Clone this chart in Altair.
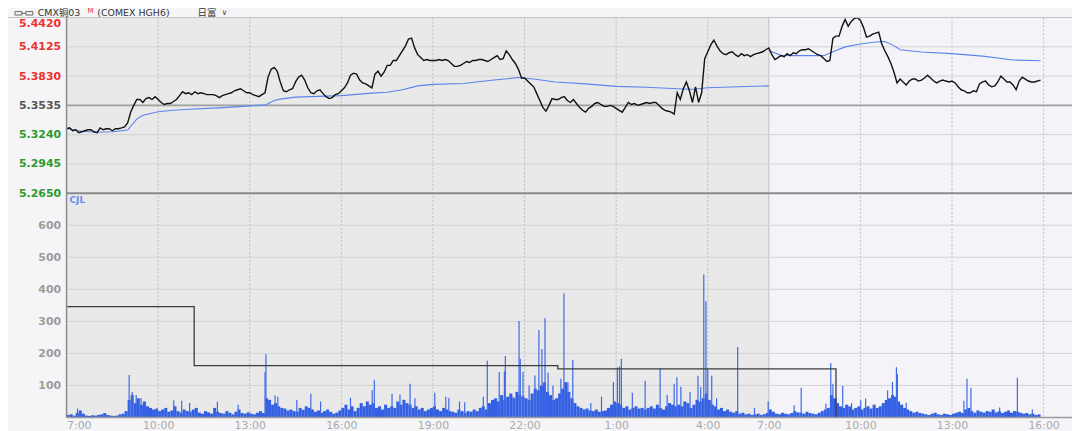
import altair as alt
import pandas as pd

# ---------------- data ----------------
# price sampled every 6 trading minutes from 7:00 (index hours = i*0.1)
price = [
    5.3299, 5.3308, 5.3279, 5.3289, 5.3260, 5.3269, 5.3279, 5.3289, 5.3289, 5.3269,
    5.3260, 5.3308, 5.3289, 5.3299, 5.3299, 5.3279, 5.3299, 5.3299, 5.3308, 5.3318,
    5.3358, 5.3466, 5.3535, 5.3594, 5.3594, 5.3564, 5.3603, 5.3613, 5.3594, 5.3623,
    5.3594, 5.3564, 5.3544, 5.3554, 5.3554, 5.3574, 5.3594, 5.3633, 5.3672, 5.3653,
    5.3662, 5.3643, 5.3672, 5.3653, 5.3662, 5.3653, 5.3643, 5.3643, 5.3643, 5.3633,
    5.3613, 5.3633, 5.3643, 5.3653, 5.3662, 5.3682, 5.3692, 5.3702, 5.3682, 5.3662,
    5.3662, 5.3643, 5.3633, 5.3623, 5.3643, 5.3662, 5.3820, 5.3898, 5.3918, 5.3879,
    5.3771, 5.3682, 5.3672, 5.3692, 5.3702, 5.3771, 5.3820, 5.3839, 5.3790, 5.3712,
    5.3662, 5.3653, 5.3682, 5.3692, 5.3653, 5.3623, 5.3603, 5.3613, 5.3643, 5.3653,
    5.3682, 5.3712, 5.3761, 5.3839, 5.3859, 5.3849, 5.3790, 5.3761, 5.3751, 5.3731,
    5.3712, 5.3849, 5.3879, 5.3829, 5.3869, 5.3938, 5.3938, 5.3987, 5.3987, 5.4036,
    5.4085, 5.4134, 5.4203, 5.4213, 5.4114, 5.4046, 5.4016, 5.3987, 5.3997, 5.3987,
    5.3987, 5.3987, 5.3997, 5.3987, 5.3997, 5.3987, 5.3957, 5.3928, 5.3928, 5.3938,
    5.3957, 5.3977, 5.3967, 5.3987, 5.3987, 5.3997, 5.3997, 5.3987, 5.3977, 5.3997,
    5.4016, 5.4036, 5.3997, 5.4006, 5.4085, 5.4046, 5.3997, 5.3957, 5.3898, 5.3810,
    5.3810, 5.3780, 5.3751, 5.3722, 5.3653, 5.3584, 5.3515, 5.3476, 5.3535, 5.3603,
    5.3594, 5.3594, 5.3613, 5.3623, 5.3584, 5.3564, 5.3594, 5.3554, 5.3515, 5.3485,
    5.3466, 5.3505, 5.3525, 5.3554, 5.3564, 5.3544, 5.3525, 5.3525, 5.3535, 5.3525,
    5.3505, 5.3485, 5.3466, 5.3515, 5.3564, 5.3544, 5.3554, 5.3535, 5.3544, 5.3554,
    5.3564, 5.3554, 5.3564, 5.3564, 5.3535, 5.3505, 5.3485, 5.3476, 5.3466, 5.3446,
    5.3662, 5.3594, 5.3702, 5.3771, 5.3682, 5.3564, 5.3722, 5.3564, 5.3662, 5.4006,
    5.4075, 5.4144, 5.4193, 5.4134, 5.4085, 5.4056, 5.4046, 5.4065, 5.4075, 5.4046,
    5.4026, 5.4056, 5.4036, 5.4046, 5.4026, 5.4046, 5.4056, 5.4065, 5.4075, 5.4095,
    5.4114, 5.4046, 5.3997, 5.4016, 5.4036, 5.4026, 5.4056, 5.4036, 5.4065, 5.4056,
    5.4085, 5.4095, 5.4095, 5.4105, 5.4085, 5.4065, 5.4046, 5.4036, 5.4006, 5.3977,
    5.3987, 5.4213, 5.4232, 5.4232, 5.4331, 5.4400, 5.4331, 5.4380, 5.4409, 5.4419,
    5.4390, 5.4321, 5.4223, 5.4232, 5.4252, 5.4262, 5.4272, 5.4154, 5.4085, 5.4026,
    5.3957, 5.3869, 5.3761, 5.3800, 5.3771, 5.3741, 5.3780, 5.3800, 5.3800, 5.3780,
    5.3790, 5.3810, 5.3839, 5.3810, 5.3780, 5.3761, 5.3780, 5.3790, 5.3780, 5.3771,
    5.3780, 5.3761, 5.3722, 5.3692, 5.3682, 5.3662, 5.3662, 5.3682, 5.3672, 5.3751,
    5.3771, 5.3780, 5.3741, 5.3722, 5.3731, 5.3771, 5.3829, 5.3800, 5.3771, 5.3771,
    5.3741, 5.3692, 5.3780, 5.3820, 5.3800, 5.3780, 5.3771, 5.3771, 5.3780, 5.3790,
]

# average price, session 1 (until 7:00) and session 2
avg1_t = [0, 0.5, 1, 1.5, 2, 2.3, 2.5, 3, 3.5, 4, 5, 6, 6.5, 6.8, 7, 7.5, 8, 9, 10, 10.5,
          11, 11.5, 12, 13, 14, 14.8, 15.3, 16, 17, 18, 19, 20, 20.5, 21, 22, 23]
avg1_p = [5.3302, 5.3274, 5.3264, 5.3269, 5.3286, 5.3397, 5.3436, 5.3471, 5.3485, 5.3495,
          5.3510, 5.3530, 5.3537, 5.3584, 5.3598, 5.3618, 5.3623, 5.3633, 5.3658, 5.3667,
          5.3692, 5.3731, 5.3746, 5.3756, 5.3790, 5.3815, 5.3800, 5.3771, 5.3751, 5.3726,
          5.3717, 5.3702, 5.3697, 5.3712, 5.3722, 5.3731]
avg2_t = [23, 23.4, 24, 24.8, 25.1, 25.5, 26, 26.5, 26.8, 27.1, 27.3, 28, 29, 30, 31, 31.9]
avg2_p = [5.4088, 5.4039, 5.4036, 5.4036, 5.4075, 5.4124, 5.4154, 5.4173, 5.4178, 5.4137,
          5.4095, 5.4072, 5.4056, 5.4031, 5.3992, 5.3984]

# volume, 6-minute buckets (one row = one hour)
vol = [
    8, 10, 6, 14, 22, 12, 6, 5, 7, 6,
    8, 10, 14, 8, 6, 5, 6, 10, 12, 20,
    55, 70, 45, 60, 40, 50, 35, 30, 25, 28,
    20, 25, 30, 18, 22, 35, 20, 15, 25, 20,
    18, 25, 30, 15, 12, 20, 16, 12, 30, 18,
    14, 12, 20, 15, 10, 18, 25, 14, 12, 16,
    12, 10, 15, 20, 14, 60, 55, 40, 45, 35,
    30, 28, 22, 25, 20, 18, 30, 24, 35, 30,
    25, 18, 22, 15, 20, 25, 18, 12, 15, 22,
    30, 40, 25, 35, 20, 30, 45, 35, 50, 40,
    45, 30, 35, 25, 40, 30, 35, 30, 50, 40,
    55, 45, 40, 30, 35, 25, 30, 20, 25, 30,
    35, 25, 20, 30, 25, 20, 18, 15, 25, 20,
    15, 20, 18, 25, 20, 30, 35, 25, 45, 55,
    60, 50, 70, 55, 65, 75, 60, 80, 70, 65,
    60, 55, 75, 90, 85, 100, 110, 80, 70, 55,
    60, 75, 90, 110, 80, 60, 45, 35, 30, 25,
    28, 22, 20, 25, 18, 20, 22, 30, 40, 50,
    45, 40, 30, 35, 25, 30, 35, 28, 30, 25,
    30, 35, 28, 40, 30, 25, 35, 45, 40, 35,
    40, 35, 50, 45, 30, 40, 55, 50, 60, 75,
    55, 40, 35, 25, 30, 20, 25, 18, 15, 20,
    12, 15, 10, 12, 8, 10, 12, 8, 10, 14,
    25, 18, 12, 10, 15, 12, 10, 14, 20, 16,
    15, 12, 18, 14, 12, 10, 15, 20, 25, 30,
    70, 60, 45, 35, 30, 40, 35, 25, 30, 35,
    25, 30, 35, 28, 40, 30, 35, 45, 55, 60,
    70, 65, 50, 40, 30, 25, 20, 15, 18, 14,
    12, 10, 8, 12, 15, 10, 8, 12, 10, 8,
    12, 15, 18, 14, 25, 30, 20, 15, 22, 18,
    15, 20, 18, 25, 16, 20, 14, 18, 22, 15,
    20, 18, 15, 12, 14, 10, 12, 8, 10,
]

# single-minute volume spikes (trading hours since 7:00, volume)
spike_t = [0.36, 2.05, 2.15, 2.28, 2.44, 3.51, 3.77, 4.03, 4.94, 5.62, 6.50, 6.53, 6.83, 6.92,
           7.54, 8.0, 8.32, 9.3, 10.01, 10.08, 10.66, 10.92, 11.25, 11.41, 12.06, 12.42, 12.52,
           12.87, 13.04, 13.65, 13.78, 14.17, 14.34, 14.37, 14.63, 14.82, 14.86, 14.95, 15.15,
           15.34, 15.47, 15.57, 15.67, 15.77, 15.93, 16.19, 16.29, 16.42, 16.58, 17.17, 17.52,
           17.91, 18.04, 18.11, 18.17, 18.53, 18.95, 19.44, 19.67, 19.9, 19.99, 20.12, 20.42,
           20.68, 20.77, 20.87, 20.94, 21.0, 21.13, 21.29, 21.98, 22.53, 22.98, 23.83, 24.06,
           24.87, 25.03, 25.1, 25.2, 25.42, 25.71, 26.01, 26.17, 26.89, 27.05, 27.18, 27.21,
           27.5, 29.39, 29.49, 29.62, 30.56, 31.14, 31.63]
spike_v = [28, 133, 80, 70, 60, 54, 52, 45, 49, 40, 142, 198, 69, 65,
           55, 74, 50, 62, 85, 118, 74, 72, 105, 60, 77, 65, 61,
           50, 48, 65, 177, 142, 144, 192, 65, 301, 183, 142, 100,
           131, 273, 214, 310, 140, 100, 121, 387, 110, 180, 45, 65,
           111, 156, 160, 183, 77, 115, 152, 70, 105, 126, 96, 80,
           130, 95, 446, 363, 152, 130, 60, 220, 30, 50, 38, 93,
           43, 170, 105, 60, 98, 45, 54, 59, 85, 111, 157, 136,
           46, 52, 121, 93, 31, 124, 25]

# black step line in the volume panel
step_t = [0, 4.18, 16.09, 25.2]
step_v = [346, 162, 152, 0]

price_ticks = [5.4420, 5.4125, 5.3830, 5.3535, 5.3240, 5.2945, 5.2650]
prev_close = [5.3535]
vol_ticks = [100, 200, 300, 400, 500, 600]
x_tick_values = [0, 3, 6, 9, 12, 15, 18, 21, 23, 26, 29, 32]
x_tick_labels = ["7:00", "10:00", "13:00", "16:00", "19:00", "22:00",
                 "1:00", "4:00", "7:00", "10:00", "13:00", "16:00"]
session_break = 23
x_end = 32.93

header_name = "CMX铜03"
header_mark = "M"
header_code = "(COMEX  HGH6)"
header_period = "日富"
header_arrow = "∨"

# ---------------- layout ----------------
W, H = 1013, 403
PH = 177
VH = H - PH
p_lo, p_hi = price_ticks[-1], price_ticks[0]
p_dom = [p_lo - (p_hi - p_lo) * VH / PH, p_hi]
v_dom = [0, 700 * H / VH]

FONT = "DejaVu Sans"
xscale = alt.Scale(domain=[0, x_end], nice=False, zero=False)
label_expr = ("[" + ",".join("'%s'" % s for s in x_tick_labels) + "][indexof(["
              + ",".join(str(v) for v in x_tick_values) + "], datum.value)]")
xaxis = alt.Axis(values=x_tick_values, labelExpr=label_expr, title=None, grid=False,
                 ticks=False, domain=False, labelColor="#a9a9a9", labelFontSize=11,
                 labelFont=FONT, labelPadding=2, labelOverlap=False)
pscale = alt.Scale(domain=p_dom, nice=False, zero=False)
vscale = alt.Scale(domain=v_dom, nice=False, zero=False)


def X(f):
    return alt.X(f + ":Q", scale=xscale, axis=xaxis)


def YP(f, axis=None):
    return alt.Y(f + ":Q", scale=pscale, axis=axis)


def YV(f, axis=None):
    return alt.Y(f + ":Q", scale=vscale, axis=axis)


def one(s):
    return pd.DataFrame({"s": [s]})


price_df = pd.DataFrame({"t": [round(i * 0.1, 2) for i in range(len(price))], "p": price})
avg_df = pd.concat([
    pd.DataFrame({"t": avg1_t, "p": avg1_p, "s": "1"}),
    pd.DataFrame({"t": avg2_t, "p": avg2_p, "s": "2"}),
])
vol_df = pd.DataFrame({"t": [round(i * 0.1, 2) for i in range(len(vol))],
                       "t2": [round(i * 0.1 + 0.1, 2) for i in range(len(vol))], "v": vol})
spike_df = pd.DataFrame({"t": spike_t, "v": spike_v})
step_df = pd.DataFrame({"t": step_t, "v": step_v})

bg = alt.Chart(pd.DataFrame({"a": [0, session_break], "b": [session_break, x_end],
                             "c": ["#e9e9e9", "#f4f4f8"]})).mark_rect().encode(
    x=X("a"), x2="b", y=alt.value(0), y2=alt.value(H),
    color=alt.Color("c:N", scale=None))

vgrid = alt.Chart(pd.DataFrame({"t": [v for v in x_tick_values if v not in (0, session_break)]})
                  ).mark_rule(color="#bcbcbc", strokeDash=[2, 2], strokeWidth=1).encode(
    x=X("t"), y=alt.value(0), y2=alt.value(H))

brk = alt.Chart(pd.DataFrame({"t": [session_break]})).mark_rule(
    color="#c6c6c6", strokeWidth=1.2).encode(x=X("t"), y=alt.value(0), y2=alt.value(H))

paxis = alt.Axis(values=price_ticks, format=".4f", title=None, grid=False, ticks=False,
                 domain=False, labelFont=FONT, labelFontSize=11, labelFontWeight="bold",
                 labelPadding=6, orient="left", labelFlush=True, labelFlushOffset=0,
                 labelColor=alt.ExprRef(expr="datum.value > 5.354 ? '#ee3030' : "
                                             "(datum.value < 5.353 ? '#2a9a2a' : '#555555')"))
pgrid = alt.Chart(pd.DataFrame({"p": price_ticks[1:-1]})).mark_rule(
    color="#d3d3d3", strokeWidth=1).encode(y=YP("p", paxis), x=alt.value(0), x2=alt.value(W))

pc = alt.Chart(pd.DataFrame({"p": prev_close})).mark_rule(
    color="#a0a0a0", strokeWidth=1.8).encode(y=YP("p"), x=alt.value(0), x2=alt.value(W))

sep = alt.Chart(pd.DataFrame({"p": [p_lo]})).mark_rule(
    color="#8a8a8a", strokeWidth=2).encode(y=YP("p"), x=alt.value(0), x2=alt.value(W))

vaxis = alt.Axis(values=vol_ticks, title=None, grid=False, ticks=False, domain=False,
                 labelFont=FONT, labelFontSize=11, labelFontWeight="bold", orient="left",
                 labelColor="#9c9c9c", labelPadding=6)
vgrid_h = alt.Chart(pd.DataFrame({"v": vol_ticks})).mark_rule(
    color="#d3d3d3", strokeWidth=1).encode(y=YV("v", vaxis), x=alt.value(0), x2=alt.value(W))

bars = alt.Chart(vol_df).mark_rect(color="#3360e2").encode(
    x=X("t"), x2="t2", y=YV("v"), y2=alt.datum(0))
spikes = alt.Chart(spike_df).mark_rule(color="#3d69e6", strokeWidth=1.2).encode(
    x=X("t"), y=YV("v"), y2=alt.datum(0))
step = alt.Chart(step_df).mark_line(interpolate="step-after", color="#3c3c3c",
                                    strokeWidth=1.3).encode(x=X("t"), y=YV("v"))

avg_line = alt.Chart(avg_df).mark_line(color="#5b84ec", strokeWidth=1.1).encode(
    x=X("t"), y=YP("p"), detail="s:N")
price_line = alt.Chart(price_df).mark_line(color="#111111", strokeWidth=1.4).encode(
    x=X("t"), y=YP("p"))

top_line = alt.Chart(one("")).mark_rule(color="#c4c4c4", strokeWidth=1).encode(
    x=alt.value(-59), x2=alt.value(W), y=alt.value(0))
left_line = alt.Chart(one("")).mark_rule(color="#8c8c8c", strokeWidth=1.5).encode(
    x=alt.value(0), y=alt.value(0), y2=alt.value(H))
bottom_line = alt.Chart(one("")).mark_rule(color="#9a9a9a", strokeWidth=1.5).encode(
    x=alt.value(0), x2=alt.value(W), y=alt.value(H))

cjl = alt.Chart(one("CJL")).mark_text(
    align="left", baseline="middle", color="#6a8cf0", fontSize=9, fontWeight="bold",
    font=FONT).encode(text="s:N", x=alt.value(3), y=alt.value(PH + 7))

# header (decoration above the plot)
hdr_font = "DejaVu Sans, Noto Sans CJK SC"
HB = -1.5  # alphabetic baseline of header texts
icon_a = alt.Chart(one("")).mark_rect(fill=None, stroke="#666666", strokeWidth=1).encode(
    x=alt.value(-52), x2=alt.value(-45), y=alt.value(-6), y2=alt.value(-2.5))
icon_b = alt.Chart(one("")).mark_rect(fill=None, stroke="#666666", strokeWidth=1).encode(
    x=alt.value(-41), x2=alt.value(-34), y=alt.value(-6), y2=alt.value(-2.5))
icon_c = alt.Chart(one("")).mark_rule(color="#666666", strokeWidth=1).encode(
    x=alt.value(-45), x2=alt.value(-41), y=alt.value(-4.25))
h_name = alt.Chart(one(header_name)).mark_text(
    align="left", baseline="alphabetic", color="#333333", fontSize=9.5, font=hdr_font).encode(
    text="s:N", x=alt.value(-29), y=alt.value(HB))
h_m = alt.Chart(one(header_mark)).mark_text(
    align="left", baseline="alphabetic", color="#ee3030", fontSize=7, font=FONT).encode(
    text="s:N", x=alt.value(21), y=alt.value(HB - 3))
h_code = alt.Chart(one(header_code)).mark_text(
    align="left", baseline="alphabetic", color="#333333", fontSize=9.5, font=hdr_font).encode(
    text="s:N", x=alt.value(31), y=alt.value(HB))
h_per = alt.Chart(one(header_period)).mark_text(
    align="left", baseline="alphabetic", color="#333333", fontSize=9.5,
    font=hdr_font).encode(text="s:N", x=alt.value(132), y=alt.value(HB))
h_arrow = alt.Chart(one(header_arrow)).mark_text(
    align="left", baseline="alphabetic", color="#444444", fontSize=8,
    font=FONT).encode(text="s:N", x=alt.value(156), y=alt.value(HB - 1))

chart = alt.layer(
    bg, vgrid, brk, pgrid, vgrid_h, pc, bars, spikes, step, avg_line, price_line,
    sep, top_line, left_line, bottom_line, cjl, icon_a, icon_b, icon_c,
    h_name, h_m, h_code, h_per, h_arrow,
).resolve_scale(y="independent").properties(
    width=W, height=H,
    autosize=alt.AutoSizeParams(type="none"),
    padding={"left": 59, "top": 8, "right": 0, "bottom": 12},
    background="#f5f5f8",
).configure_view(stroke=None)

chart.save("out.html", embed_options={"renderer": "svg", "actions": False})
